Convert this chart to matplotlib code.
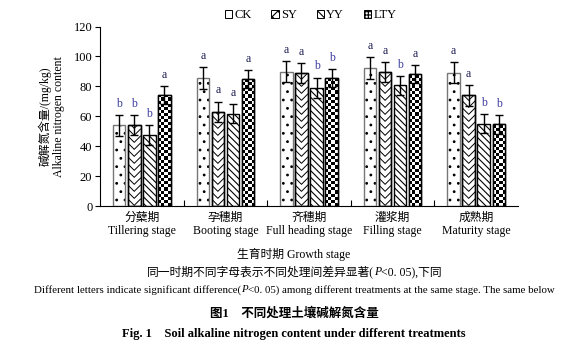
import numpy as np
import matplotlib
matplotlib.use("Agg")
import matplotlib.pyplot as plt
from matplotlib.patches import Patch

plt.rcParams['font.family'] = ['Liberation Serif', 'Noto Sans CJK SC']
plt.rcParams['hatch.linewidth'] = 0.8

# data
stages_cn = ['分蘖期', '孕穗期', '齐穗期', '灌浆期', '成熟期']
stages_en = ['Tillering stage', 'Booting stage', 'Full heading stage', 'Filling stage', 'Maturity stage']
treatments = ['CK', 'SY', 'YY', 'LTY']

ck = [54.0, 85.6, 89.8, 92.4, 89.1]
sy = [54.0, 62.9, 88.9, 89.6, 74.0]
yy = [47.3, 61.8, 79.1, 80.7, 55.1]
lty = [74.2, 84.9, 85.6, 88.4, 54.7]

ck_err = [7.0, 7.1, 7.1, 7.2, 6.9]
sy_err = [6.7, 6.9, 6.9, 6.8, 7.1]
yy_err = [6.7, 6.6, 6.7, 6.2, 6.4]
lty_err = [6.0, 6.0, 6.0, 6.0, 6.2]

ck_sig = ['b', 'a', 'a', 'a', 'a']
sy_sig = ['b', 'a', 'a', 'a', 'a']
yy_sig = ['b', 'a', 'b', 'b', 'b']
lty_sig = ['a', 'a', 'b', 'a', 'b']

series = [ck, sy, yy, lty]
errs = [ck_err, sy_err, yy_err, lty_err]
sigs = [ck_sig, sy_sig, yy_sig, lty_sig]

fig = plt.figure(figsize=(5.88, 3.59), dpi=100)
ax = fig.add_axes([0.170, 0.426, 0.711, 0.500])

ax.set_xlim(-0.5, 4.5)
ax.set_ylim(0, 120)

# pixel -> data conversions (axes is ~418 px wide, ~180 px tall)
px_x = 5.0 / (0.711 * 588)
px_y = 120.0 / (0.500 * 359)

x = np.arange(len(stages_cn))
width = 0.15
offsets = [-0.27, -0.09, 0.09, 0.27]
sig_colors = {'a': '#1d1d55', 'b': '#3c3ca0'}


def chevrons(ax, bar):
    x0, w, h = bar.get_x(), bar.get_width(), bar.get_height()
    xc = x0 + w / 2
    step = 7 * px_y
    rise = (w / 2) / px_x * px_y
    y = -rise
    while y < h + step:
        ln, = ax.plot([x0, xc, x0 + w], [y + rise, y, y + rise], color='black', lw=0.7, zorder=2)
        ln.set_clip_path(bar)
        y += step


def checker(ax, bar):
    x0, w, h = bar.get_x(), bar.get_width(), bar.get_height()
    nx = 4
    cell_h = 3.1 * px_y
    ny = int(h / cell_h) + 1
    board = (np.add.outer(np.arange(ny), np.arange(nx)) % 2).astype(float)
    im = ax.imshow(board, cmap='gray_r', interpolation='nearest', origin='lower',
                   extent=(x0, x0 + w, 0, ny * cell_h), aspect='auto', zorder=2)
    im.set_clip_path(bar)


for i, (vals, err, sig) in enumerate(zip(series, errs, sigs)):
    xi = x + offsets[i]
    if i == 0:
        ax.bar(xi, vals, width, color='white', edgecolor='black', linewidth=0, hatch='..', zorder=2)
        ax.bar(xi, vals, width, color='none', edgecolor='#777777', linewidth=1.0, zorder=3)
    elif i == 1:
        bars = ax.bar(xi, vals, width, color='white', edgecolor='black', linewidth=1.0, zorder=2)
        for b in bars:
            chevrons(ax, b)
        ax.bar(xi, vals, width, color='none', edgecolor='black', linewidth=1.0, zorder=3)
    elif i == 2:
        ax.bar(xi, vals, width, color='white', edgecolor='black', linewidth=1.0, hatch='\\\\\\\\\\', zorder=2)
    else:
        bars = ax.bar(xi, vals, width, color='white', edgecolor='black', linewidth=1.0, zorder=2)
        for b in bars:
            checker(ax, b)
        ax.bar(xi, vals, width, color='none', edgecolor='black', linewidth=1.0, zorder=3)
    ax.errorbar(xi, vals, yerr=err, fmt='none', ecolor='black', elinewidth=1.0,
                capsize=3, capthick=1.0, zorder=4)
    for xx, v, e, s in zip(xi, vals, err, sig):
        ax.text(xx, v + e + 3.5, s, ha='center', va='bottom', fontsize=8.5, color=sig_colors[s])

ax.set_xlim(-0.5, 4.5)
ax.set_ylim(0, 120)

ax.spines['top'].set_visible(False)
ax.spines['right'].set_visible(False)
ax.set_yticks(np.arange(0, 121, 20))
ax.tick_params(axis='y', direction='out', length=3.5, labelsize=9, pad=2)
ax.set_xticks([0.5, 1.5, 2.5, 3.5])
ax.set_xticklabels([])
ax.tick_params(axis='x', which='major', direction='in', length=4)
ax.set_xticks(x, minor=True)
ax.set_xticklabels([f'{c}\n{e}' for c, e in zip(stages_cn, stages_en)], minor=True, fontsize=8.5,
                   linespacing=1.15)
ax.tick_params(axis='x', which='minor', length=0, pad=4)

ax.set_ylabel('碱解氮含量/(mg/kg)\nAlkaline nitrogen content', fontsize=8.5, labelpad=6, linespacing=1.2)

handles = [
    Patch(facecolor='white', edgecolor='black', linewidth=0.7),
    Patch(facecolor='white', edgecolor='black', linewidth=0.7, hatch='xxx'),
    Patch(facecolor='white', edgecolor='black', linewidth=0.7, hatch='\\\\\\\\\\'),
    Patch(facecolor='white', edgecolor='black', linewidth=0.7, hatch='+++++'),
]
fig.legend(handles, treatments, loc='center', bbox_to_anchor=(0.528, 0.958), ncol=4, frameon=False,
           fontsize=9, handlelength=0.6, handleheight=0.6, handletextpad=0.15, columnspacing=1.6)


def centered_pieces(fig, y, pieces, fontsize):
    # draw text pieces side by side (some italic) centred on the figure
    renderer = fig.canvas.get_renderer()
    texts = []
    for s, style in pieces:
        t = fig.text(0, y, s, ha='left', va='center', fontsize=fontsize, style=style)
        texts.append(t)
    widths = [t.get_window_extent(renderer).width for t in texts]
    fw = fig.get_figwidth() * fig.dpi
    xpos = (fw - sum(widths)) / 2
    for t, w in zip(texts, widths):
        t.set_x(xpos / fw)
        xpos += w


fig.text(0.5, 1 - 254 / 359, '生育时期 Growth stage', ha='center', va='center', fontsize=8.5)
centered_pieces(fig, 1 - 272 / 359, [('同一时期不同字母表示不同处理间差异显著(', 'normal'), ('P', 'italic'),
                                     ('<0. 05),下同', 'normal')], 8.5)
centered_pieces(fig, 1 - 290 / 359, [('Different letters indicate significant difference(', 'normal'),
                                     ('P', 'italic'),
                                     ('<0. 05) among different treatments at the same stage. The same below',
                                      'normal')], 7.8)
fig.text(0.5, 1 - 313 / 359, '图1    不同处理土壤碱解氮含量', ha='center', va='center',
         fontsize=9, fontweight='bold')
fig.text(0.5, 1 - 334 / 359, 'Fig. 1    Soil alkaline nitrogen content under different treatments',
         ha='center', va='center', fontsize=9, fontweight='bold')

fig.savefig('out.png', dpi=100)
